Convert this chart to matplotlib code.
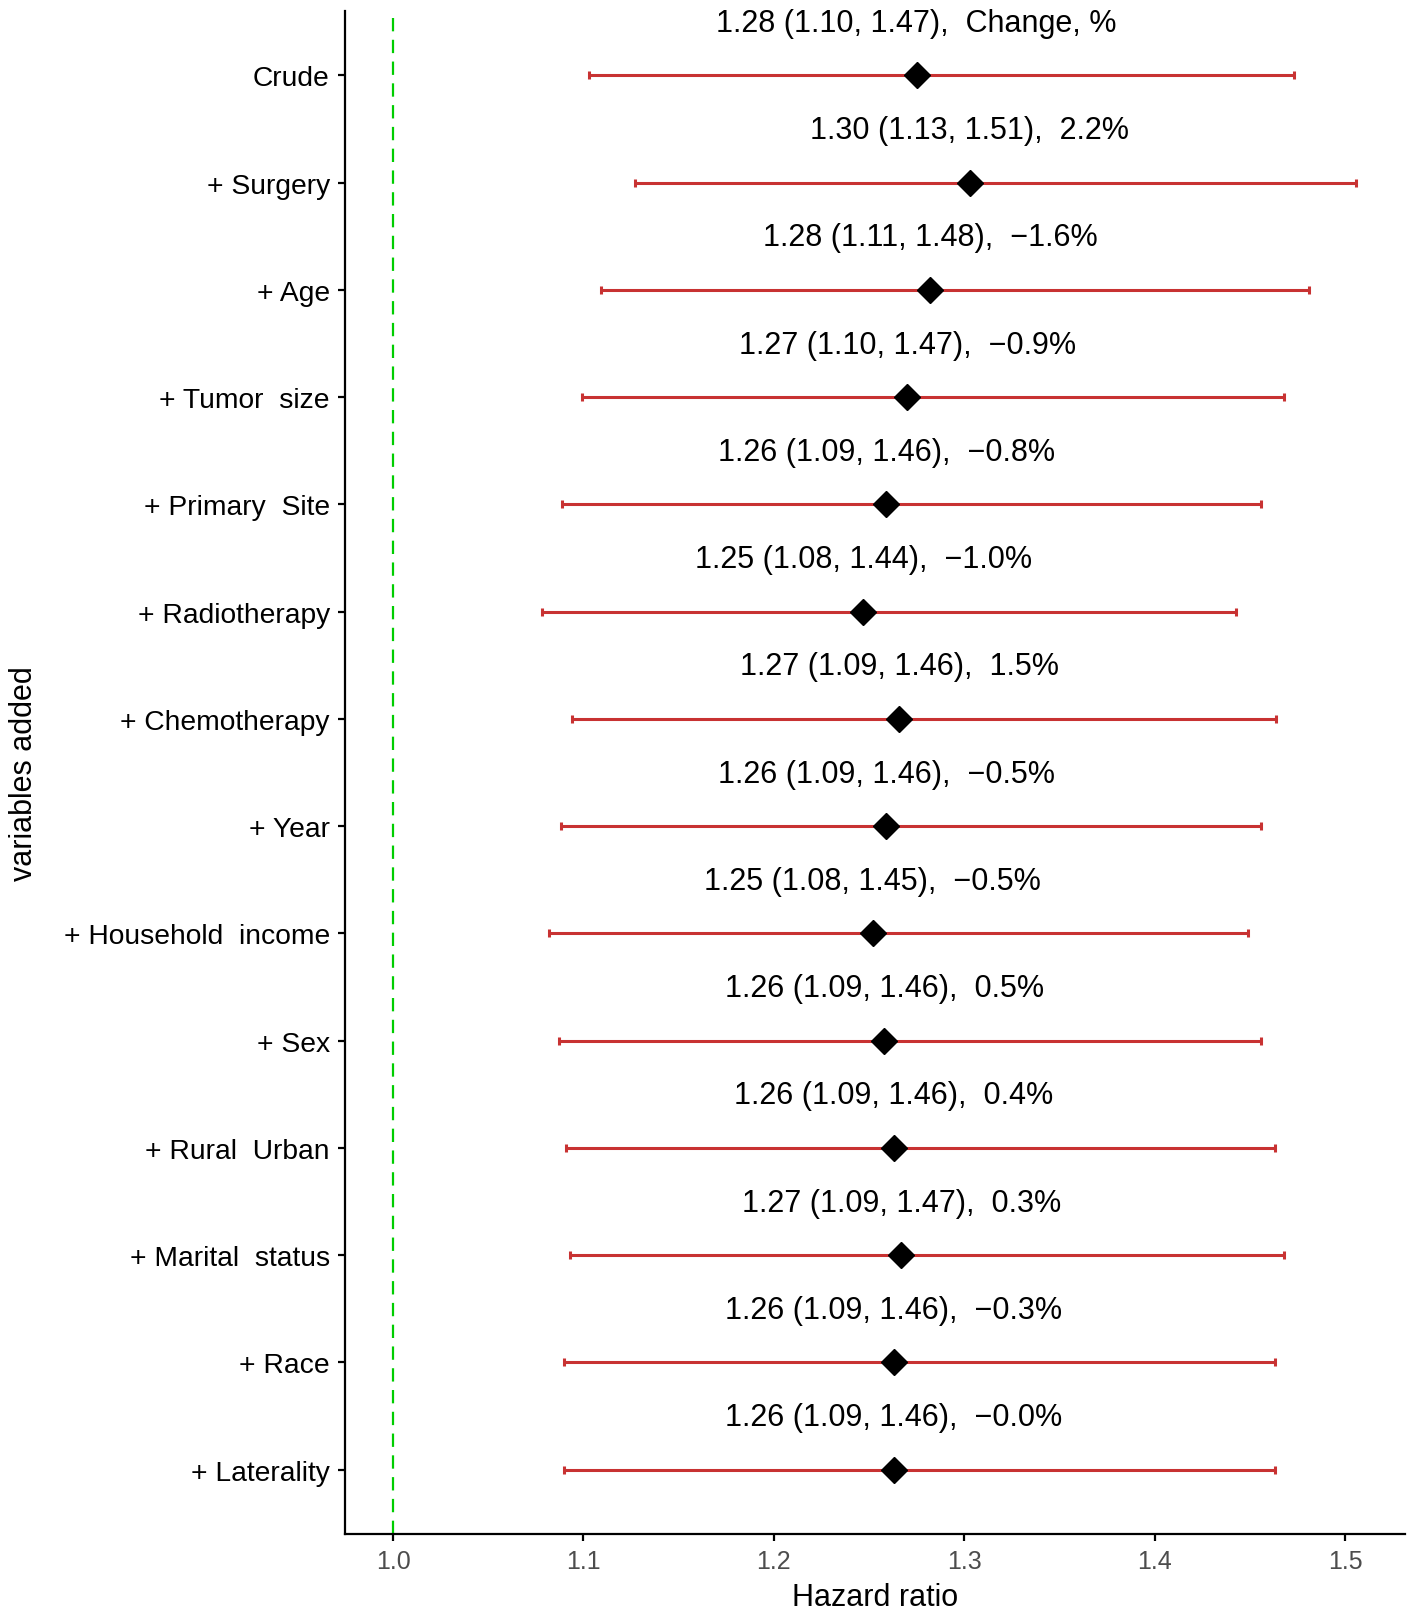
import numpy as np
import matplotlib
matplotlib.use("Agg")
import matplotlib.pyplot as plt

plt.rcParams['font.family'] = ['Liberation Sans', 'DejaVu Sans']

variables = ["Crude", "+ Surgery", "+ Age", "+ Tumor  size", "+ Primary  Site",
             "+ Radiotherapy", "+ Chemotherapy", "+ Year", "+ Household  income",
             "+ Sex", "+ Rural  Urban", "+ Marital  status", "+ Race", "+ Laterality"]
hr = [1.275, 1.303, 1.282, 1.270, 1.259, 1.247, 1.266, 1.259, 1.252,
      1.258, 1.263, 1.267, 1.263, 1.263]
lower = [1.103, 1.127, 1.109, 1.099, 1.089, 1.078, 1.094, 1.088, 1.082,
         1.087, 1.091, 1.093, 1.090, 1.090]
upper = [1.473, 1.506, 1.481, 1.468, 1.456, 1.443, 1.464, 1.456, 1.449,
         1.456, 1.463, 1.468, 1.463, 1.463]
labels = ["1.28 (1.10, 1.47),  Change, %", "1.30 (1.13, 1.51),  2.2%",
          "1.28 (1.11, 1.48),  \u22121.6%", "1.27 (1.10, 1.47),  \u22120.9%",
          "1.26 (1.09, 1.46),  \u22120.8%", "1.25 (1.08, 1.44),  \u22121.0%",
          "1.27 (1.09, 1.46),  1.5%", "1.26 (1.09, 1.46),  \u22120.5%",
          "1.25 (1.08, 1.45),  \u22120.5%", "1.26 (1.09, 1.46),  0.5%",
          "1.26 (1.09, 1.46),  0.4%", "1.27 (1.09, 1.47),  0.3%",
          "1.26 (1.09, 1.46),  \u22120.3%", "1.26 (1.09, 1.46),  \u22120.0%"]

hr = np.array(hr)
lower = np.array(lower)
upper = np.array(upper)
ypos = np.arange(len(variables))

fig = plt.figure(figsize=(14.17, 16.15), dpi=100)
ax = fig.add_axes([0.2435, 0.0495, 0.748, 0.943])

# reference line at HR = 1
ax.axvline(1.0, color='#00CD00', lw=1.6, linestyle=(0, (6.0, 3.8)), zorder=1)

ax.errorbar(hr, ypos, xerr=[hr - lower, upper - hr], fmt='none',
            ecolor='#C83232', elinewidth=2.2, capsize=3, capthick=2.2, zorder=2)
ax.plot(hr, ypos, linestyle='none', marker='D', markersize=13,
        color='black', zorder=3)

for y, x, t in zip(ypos, hr, labels):
    ax.text(x, y - 0.49, t, ha='center', va='center', fontsize=22, color='black')

ax.set_xlim(0.9748, 1.5315)
ax.set_ylim(len(variables) - 1 + 0.6, -0.6)
ax.set_yticks(ypos)
ax.set_yticklabels(variables, fontsize=20.3, color='black')
ax.set_xticks([1.0, 1.1, 1.2, 1.3, 1.4, 1.5])
ax.set_xticklabels(["1.0", "1.1", "1.2", "1.3", "1.4", "1.5"], fontsize=18, color='#4D4D4D')

for s in ['top', 'right']:
    ax.spines[s].set_visible(False)
for s in ['left', 'bottom']:
    ax.spines[s].set_linewidth(1.6)
ax.tick_params(axis='both', length=5, width=1.6, pad=6)

ax.set_xlabel("Hazard ratio", fontsize=22, labelpad=6)
ax.set_ylabel("variables added", fontsize=22)
ax.yaxis.set_label_coords(-0.289, 0.5)

fig.savefig("out.png", dpi=100)
